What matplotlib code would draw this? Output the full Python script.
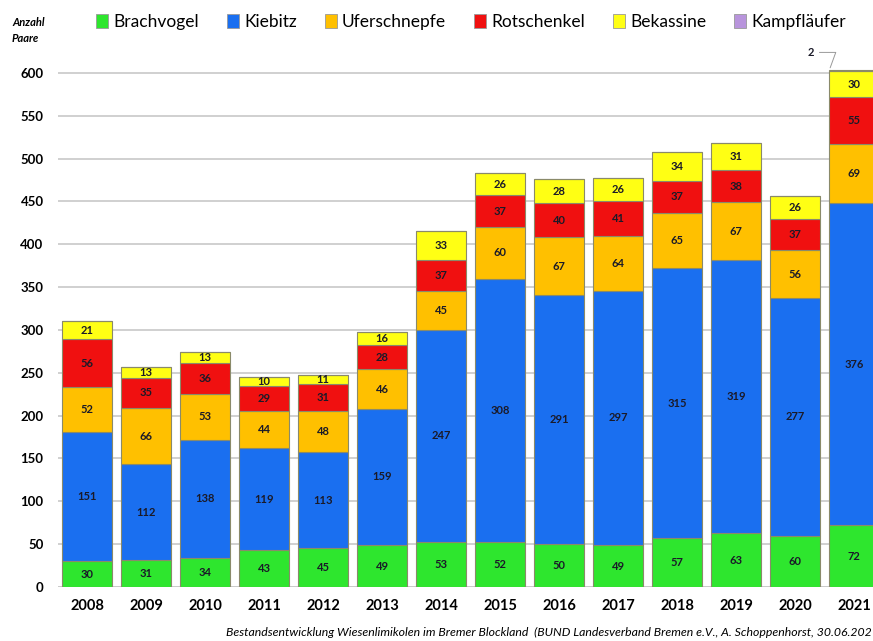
import matplotlib
matplotlib.use("Agg")
import matplotlib.pyplot as plt
from matplotlib.patches import Patch
import numpy as np

plt.rcParams['font.family'] = ['Lato', 'DejaVu Sans']

# Daten (Anzahl Paare)
jahre = ['2008', '2009', '2010', '2011', '2012', '2013', '2014',
         '2015', '2016', '2017', '2018', '2019', '2020', '2021']
brachvogel = [30, 31, 34, 43, 45, 49, 53, 52, 50, 49, 57, 63, 60, 72]
kiebitz = [151, 112, 138, 119, 113, 159, 247, 308, 291, 297, 315, 319, 277, 376]
uferschnepfe = [52, 66, 53, 44, 48, 46, 45, 60, 67, 64, 65, 67, 56, 69]
rotschenkel = [56, 35, 36, 29, 31, 28, 37, 37, 40, 41, 37, 38, 37, 55]
bekassine = [21, 13, 13, 10, 11, 16, 33, 26, 28, 26, 34, 31, 26, 30]
kampflaeufer = [0, 0, 0, 0, 0, 0, 0, 0, 0, 0, 0, 0, 0, 2]

arten = ['Brachvogel', 'Kiebitz', 'Uferschnepfe', 'Rotschenkel', 'Bekassine', 'Kampfläufer']
werte = [brachvogel, kiebitz, uferschnepfe, rotschenkel, bekassine, kampflaeufer]
farben = ['#2ee62e', '#1a6ff0', '#ffc000', '#f01010', '#ffff14', '#b894dc']

fig = plt.figure(figsize=(8.73, 6.41), dpi=100)
ax = fig.add_axes([57.5 / 873, 54 / 641, 826 / 873, 548.3 / 641])

x = np.arange(len(jahre))
unten = np.zeros(len(jahre))
for name, vals, col in zip(arten, werte, farben):
    vals = np.array(vals)
    ax.bar(x, vals, 0.84, bottom=unten, color=col, edgecolor='#8a8a6a',
           linewidth=0.8, zorder=3)
    if name != 'Kampfläufer':
        for xi, b, v in zip(x, unten, vals):
            if v > 0:
                ax.text(xi, b + v / 2, str(v), ha='center', va='center',
                        fontsize=8, fontweight='bold', color='#1a1a28', zorder=4)
    unten = unten + vals

# Kampfläufer 2021 mit Führungslinie
i = len(jahre) - 1
ax.annotate(str(kampflaeufer[i]), xy=(i - 0.42, unten[i] - 1),
            xytext=(i - 0.68, 624), fontsize=8, fontweight='bold',
            color='#1a1a28', ha='right', va='center',
            arrowprops=dict(arrowstyle='-', color='#999999', lw=0.7,
                            connectionstyle='angle,angleA=0,angleB=70,rad=0'))

ax.set_xlim(-0.5, len(jahre) - 0.5)
ax.set_ylim(0, 640)
ax.set_yticks(range(0, 601, 50))
ax.set_xticks(x)
ax.set_xticklabels(jahre, fontsize=10.5, fontweight='bold')
ax.tick_params(axis='y', labelsize=9.5, length=0, pad=10)
ax.tick_params(axis='x', length=0, pad=9)
for lbl in ax.get_yticklabels():
    lbl.set_fontweight('bold')
ax.grid(axis='y', color='#c8c8c8', linewidth=1.2, zorder=0)
for s in ax.spines.values():
    s.set_visible(False)
ax.axhline(0, color='#d0d0d0', linewidth=1.2, zorder=1)

fig.text(12 / 873, 1 - 22 / 641, 'Anzahl', fontsize=8, fontstyle='italic',
         fontweight='bold', va='center')
fig.text(12 / 873, 1 - 39 / 641, 'Paare', fontsize=8, fontstyle='italic',
         fontweight='bold', va='center')

handles = [Patch(facecolor=c, edgecolor='#999999', linewidth=0.6) for c in farben]
fig.legend(handles, arten, loc='center left', bbox_to_anchor=(96 / 873, 1 - 22 / 641),
           ncol=6, frameon=False, fontsize=12.5, handlelength=0.7, handleheight=0.9,
           handletextpad=0.3, columnspacing=1.6, borderaxespad=0, borderpad=0)

fig.text(226 / 873, 1 - 632 / 641,
         'Bestandsentwicklung Wiesenlimikolen im Bremer Blockland  '
         '(BUND Landesverband Bremen e.V., A. Schoppenhorst, 30.06.2021)',
         fontsize=8.8, fontstyle='italic', va='center')

fig.savefig('out.png', dpi=100)
